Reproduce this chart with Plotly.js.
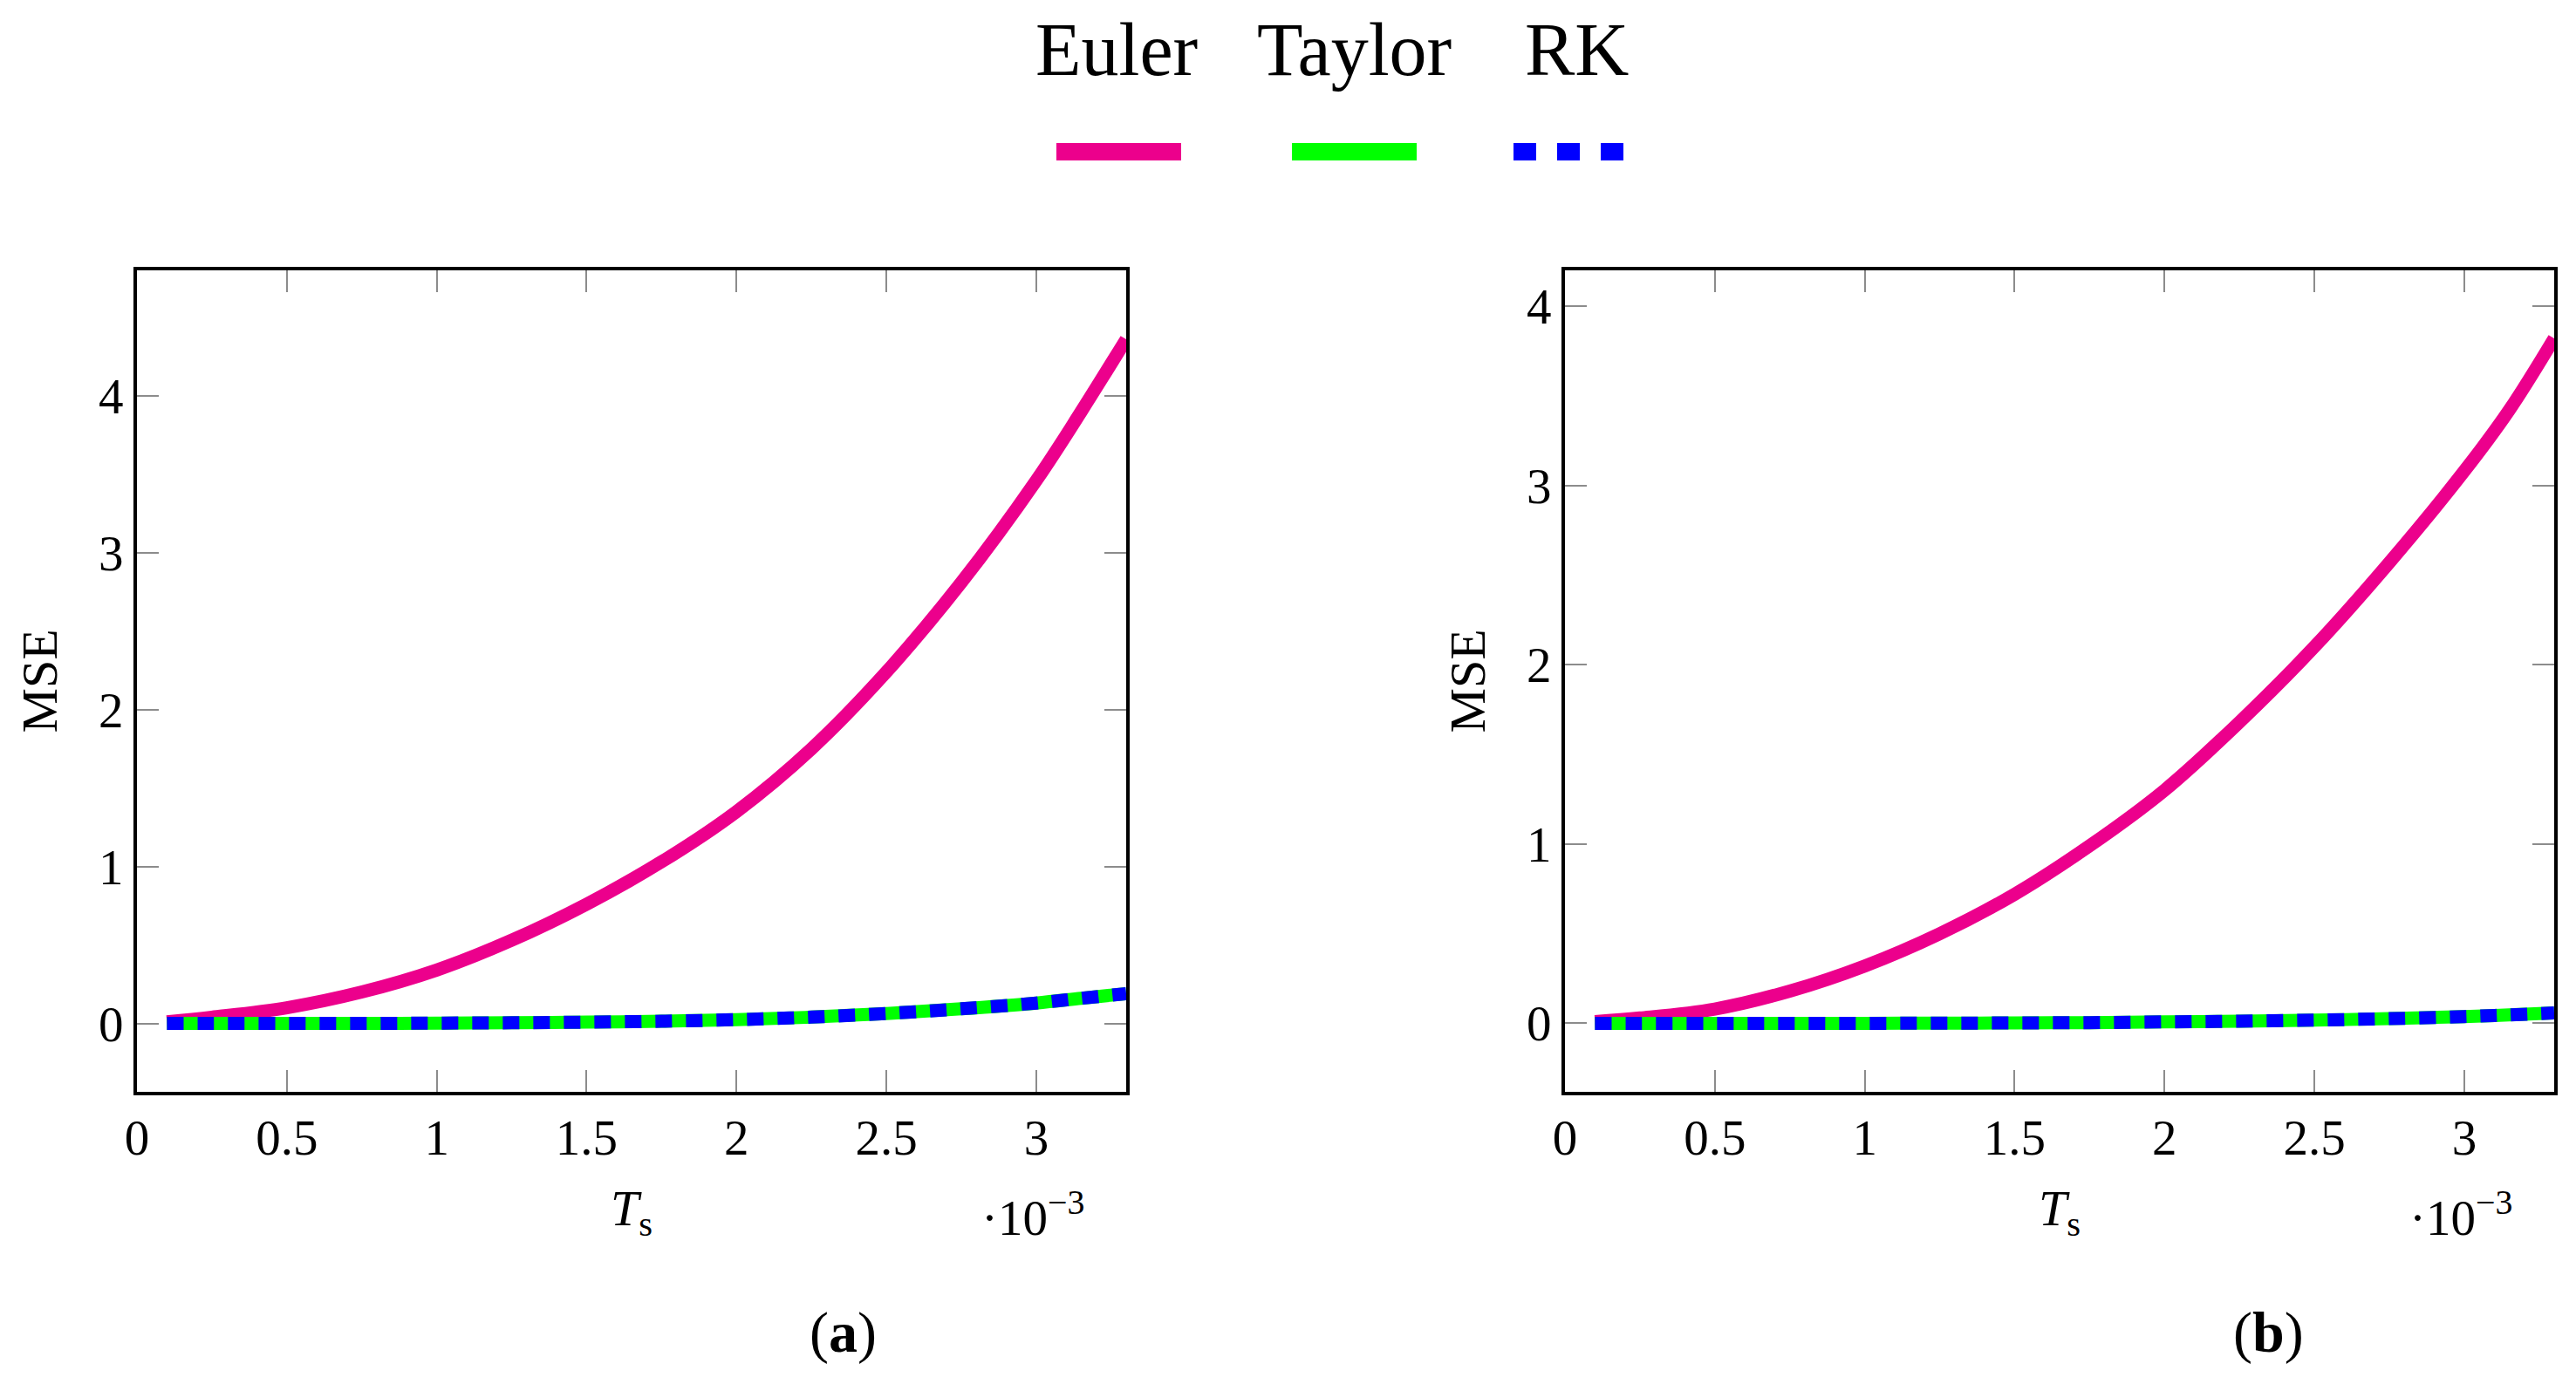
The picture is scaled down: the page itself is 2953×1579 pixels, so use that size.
<!DOCTYPE html>
<html>
<head>
<meta charset="utf-8">
<script src="https://cdn.plot.ly/plotly-3.0.1.min.js"></script>
<style>
html,body{margin:0;padding:0;background:#fff;}
#chart{width:2953px;height:1579px;}
</style>
</head>
<body>
<div id="chart"></div>
<script>
// Sampling period T_s (in units of 1e-3 s)
const tsValues = [0.1, 0.25, 0.5, 0.75, 1.0, 1.25, 1.5, 1.75, 2.0, 2.25, 2.5, 2.75, 3.0, 3.15, 3.3];

// Panel (a) MSE
const eulerA  = [0.01, 0.04, 0.1, 0.2, 0.34, 0.53, 0.76, 1.03, 1.35, 1.75, 2.24, 2.81, 3.46, 3.90, 4.36];
const taylorA = [0, 0, 0, 0, 0.002, 0.004, 0.008, 0.014, 0.024, 0.04, 0.063, 0.093, 0.13, 0.16, 0.19];
const rkA     = [0, 0, 0, 0, 0.002, 0.004, 0.008, 0.014, 0.024, 0.04, 0.063, 0.093, 0.13, 0.16, 0.19];

// Panel (b) MSE
const eulerB  = [0.01, 0.03, 0.08, 0.18, 0.32, 0.5, 0.72, 0.99, 1.30, 1.68, 2.10, 2.57, 3.08, 3.42, 3.82];
const taylorB = [0, 0, 0, 0, 0, 0.001, 0.002, 0.004, 0.008, 0.012, 0.018, 0.026, 0.038, 0.047, 0.058];
const rkB     = [0, 0, 0, 0, 0, 0.001, 0.002, 0.004, 0.008, 0.012, 0.018, 0.026, 0.038, 0.047, 0.058];

const seriesNames = ['Euler', 'Taylor', 'RK'];
const panelLabels = ['(<b>a</b>)', '(<b>b</b>)'];
const xTickVals = [0, 0.5, 1, 1.5, 2, 2.5, 3];
const yTickVals = [0, 1, 2, 3, 4];

const COL_EULER = '#EC008C';
const COL_TAYLOR = '#00FF00';
const COL_RK = '#0000FF';
const FONT = 'Liberation Serif, "DejaVu Serif", serif';

function trio(xa, ya, e, t, r) {
  return [
    {x: tsValues, y: e, xaxis: xa, yaxis: ya, name: seriesNames[0], mode: 'lines',
     line: {color: COL_EULER, width: 15, shape: 'spline', smoothing: 1}},
    {x: tsValues, y: t, xaxis: xa, yaxis: ya, name: seriesNames[1], mode: 'lines',
     line: {color: COL_TAYLOR, width: 15, shape: 'spline', smoothing: 1}},
    {x: tsValues, y: r, xaxis: xa, yaxis: ya, name: seriesNames[2], mode: 'lines',
     line: {color: COL_RK, width: 15, dash: '19px,16px', shape: 'spline', smoothing: 1}}
  ];
}

const data = [].concat(trio('x', 'y', eulerA, taylorA, rkA), trio('x2', 'y2', eulerB, taylorB, rkB));

function xAxis(domain, anchor) {
  return {
    domain: domain, anchor: anchor, range: [0, 3.3],
    tickmode: 'array', tickvals: xTickVals,
    ticks: 'inside', ticklen: 25, tickwidth: 2, tickcolor: '#8c8c8c',
    showline: true, linecolor: '#000', linewidth: 4, mirror: 'ticks',
    showgrid: false, zeroline: false,
    tickfont: {family: FONT, size: 57, color: '#000'},
    title: {text: '<i>T</i><sub>s</sub>', font: {family: FONT, size: 58, color: '#000'}, standoff: 30}
  };
}
function yAxis(domain, anchor, range) {
  return {
    domain: domain, anchor: anchor, range: range,
    tickmode: 'array', tickvals: yTickVals,
    ticks: 'inside', ticklen: 25, tickwidth: 2, tickcolor: '#8c8c8c',
    showline: true, linecolor: '#000', linewidth: 4, mirror: 'ticks',
    showgrid: false, zeroline: false,
    tickfont: {family: FONT, size: 57, color: '#000'},
    title: {text: 'MSE', font: {family: FONT, size: 58, color: '#000'}, standoff: 30}
  };
}

const yDom = [0.2071, 0.8037];
const legY = 0.8898;
const shapes = [
  {type: 'line', xref: 'paper', yref: 'paper', x0: 1211/2953, x1: 1354/2953, y0: legY, y1: legY,
   line: {color: COL_EULER, width: 20}},
  {type: 'line', xref: 'paper', yref: 'paper', x0: 1481/2953, x1: 1624/2953, y0: legY, y1: legY,
   line: {color: COL_TAYLOR, width: 20}},
  {type: 'line', xref: 'paper', yref: 'paper', x0: 1735/2953, x1: 1861/2953, y0: legY, y1: legY,
   line: {color: COL_RK, width: 20, dash: '26px,24px'}}
];

const annFont = {family: FONT, size: 86, color: '#000'};
const annotations = [
  {text: seriesNames[0], xref: 'paper', yref: 'paper', x: 1280/2953, y: 0.9639, showarrow: false, font: annFont, xanchor: 'center', yanchor: 'middle'},
  {text: seriesNames[1], xref: 'paper', yref: 'paper', x: 1552/2953, y: 0.9639, showarrow: false, font: annFont, xanchor: 'center', yanchor: 'middle'},
  {text: seriesNames[2], xref: 'paper', yref: 'paper', x: 1807/2953, y: 0.9639, showarrow: false, font: annFont, xanchor: 'center', yanchor: 'middle'},
  {text: '·10<sup>−3</sup>', xref: 'paper', yref: 'paper', x: 1245/2953, y: 0.1184, showarrow: false,
   font: {family: FONT, size: 57, color: '#000'}, xanchor: 'right', yanchor: 'middle'},
  {text: '·10<sup>−3</sup>', xref: 'paper', yref: 'paper', x: 2882/2953, y: 0.1184, showarrow: false,
   font: {family: FONT, size: 57, color: '#000'}, xanchor: 'right', yanchor: 'middle'},
  {text: panelLabels[0], xref: 'paper', yref: 'paper', x: 966/2953, y: 0.0323, showarrow: false,
   font: {family: FONT, size: 66, color: '#000'}, xanchor: 'center', yanchor: 'middle'},
  {text: panelLabels[1], xref: 'paper', yref: 'paper', x: 2600/2953, y: 0.0323, showarrow: false,
   font: {family: FONT, size: 66, color: '#000'}, xanchor: 'center', yanchor: 'middle'}
];

const layout = {
  width: 2953, height: 1579,
  margin: {l: 0, r: 0, t: 0, b: 0, pad: 0},
  paper_bgcolor: '#fff', plot_bgcolor: '#fff',
  showlegend: false,
  font: {family: FONT, color: '#000'},
  xaxis: xAxis([157/2953, 1291/2953], 'y'),
  yaxis: yAxis(yDom, 'x', [-0.436, 4.80]),
  xaxis2: xAxis([1794/2953, 2928/2953], 'y2'),
  yaxis2: yAxis(yDom, 'x2', [-0.382, 4.20]),
  shapes: shapes,
  annotations: annotations
};

Plotly.newPlot('chart', data, layout, {displayModeBar: false, staticPlot: true});
</script>
</body>
</html>
